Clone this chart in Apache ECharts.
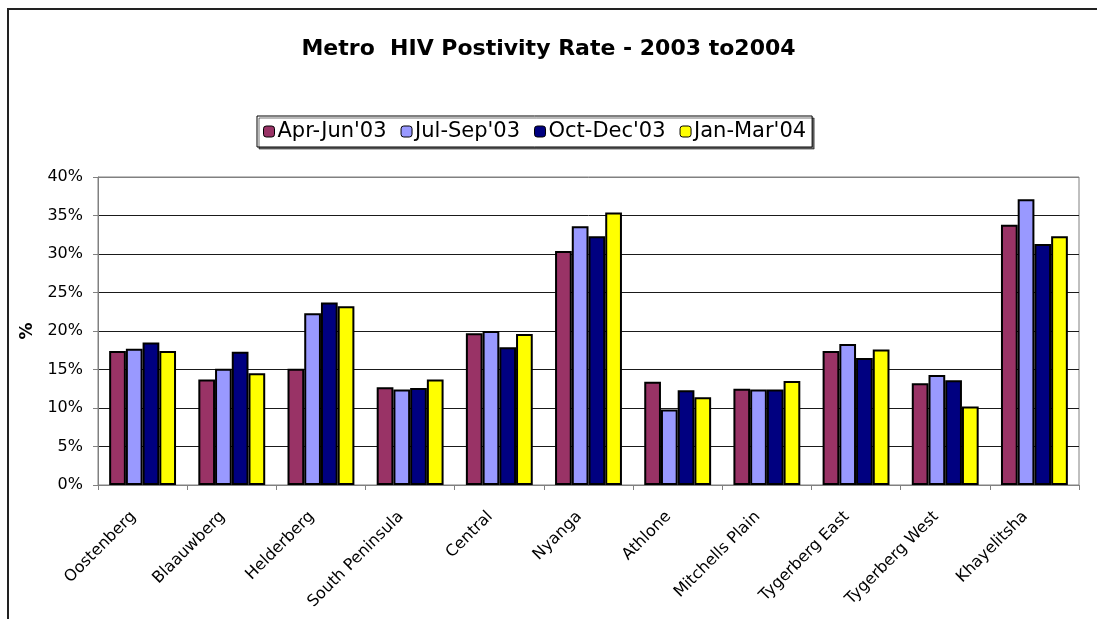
<!DOCTYPE html>
<html>
<head>
<meta charset="utf-8">
<script src="https://cdn.jsdelivr.net/npm/echarts@6/dist/echarts.min.js"></script>
<style>html,body{margin:0;padding:0;background:#fff}#c{width:1097px;height:619px}</style>
</head>
<body>
<div id="c"></div>
<script>
const titleText = "Metro  HIV Postivity Rate - 2003 to2004";
const categories = ["Oostenberg","Blaauwberg","Helderberg","South Peninsula","Central","Nyanga","Athlone","Mitchells Plain","Tygerberg East","Tygerberg West","Khayelitsha"];
const seriesNames = ["Apr-Jun'03","Jul-Sep'03","Oct-Dec'03","Jan-Mar'04"];
const aprJun03 = [17.4,13.7,15.1,12.7,19.7,30.4,13.4,12.5,17.4,13.2,33.8];
const julSep03 = [17.7,15.1,22.3,12.4,20.0,33.6,9.8,12.4,18.3,14.3,37.1];
const octDec03 = [18.5,17.3,23.7,12.6,17.9,32.3,12.3,12.4,16.5,13.6,31.3];
const janMar04 = [17.4,14.5,23.2,13.7,19.6,35.4,11.4,13.5,17.6,10.2,32.3];
const seriesColors = ["#993366","#9999FF","#000080","#FFFF00"];
const yTicksMax = 40, yInterval = 5;

const values = [aprJun03, julSep03, octDec03, janMar04];
const font = "'DejaVu Sans', 'Liberation Sans', Arial, sans-serif";
const chart = echarts.init(document.getElementById('c'), null, {renderer:'canvas'});
const splitColors = [];
for (let i = 0; i <= yTicksMax / yInterval; i++) splitColors.push(i === yTicksMax / yInterval ? '#808080' : '#1a1a1a');

chart.setOption({
  animation: false,
  backgroundColor: '#fff',
  graphic: [{
    type: 'rect', shape: {x: 8, y: 9, width: 1200, height: 700},
    style: {fill: 'none', stroke: '#222', lineWidth: 2}, silent: true, z: -1
  }],
  title: {
    text: titleText, left: 'center', top: 33,
    textStyle: {fontFamily: font, fontSize: 22, fontWeight: 'bold', color: '#000'}
  },
  legend: {
    data: seriesNames, top: 116, left: 257,
    itemWidth: 11, itemHeight: 11, itemGap: 14,
    padding: [5, 6, 5, 6],
    backgroundColor: '#fff', borderColor: '#000', borderWidth: 1,
    shadowColor: 'rgba(0,0,0,0.55)', shadowOffsetX: 2, shadowOffsetY: 2, shadowBlur: 0,
    textStyle: {fontFamily: font, fontSize: 21, color: '#000', padding: [0, 0, 0, -2]},
    itemStyle: {borderColor: '#000', borderWidth: 1}
  },
  grid: {left: 98, right: 18, top: 177, bottom: 134, show: true, borderColor: '#808080', borderWidth: 1},
  xAxis: {
    type: 'category', data: categories,
    axisLine: {lineStyle: {color: '#808080', width: 1}},
    axisTick: {show: true, length: 5, lineStyle: {color: '#808080'}},
    axisLabel: {rotate: 45, margin: 20, padding: [0, 13, 0, 0], fontFamily: font, fontSize: 16, color: '#000', interval: 0}
  },
  yAxis: {
    type: 'value', min: 0, max: yTicksMax, interval: yInterval,
    name: '%', nameLocation: 'middle', nameGap: 62,
    nameTextStyle: {fontFamily: font, fontSize: 17, fontWeight: 'bold', color: '#000'},
    axisLine: {show: true, lineStyle: {color: '#808080'}},
    axisTick: {show: true, length: 5, inside: false, lineStyle: {color: '#808080'}},
    axisLabel: {formatter: '{value}%', margin: 15, fontFamily: font, fontSize: 16, color: '#000'},
    splitLine: {show: true, lineStyle: {color: splitColors, width: 1}}
  },
  series: seriesNames.map((n, i) => ({
    name: n, type: 'bar', data: values[i],
    barGap: '0%', barCategoryGap: '25%',
    itemStyle: {color: seriesColors[i], borderColor: '#000', borderWidth: 2}
  }))
});
</script>
</body>
</html>
